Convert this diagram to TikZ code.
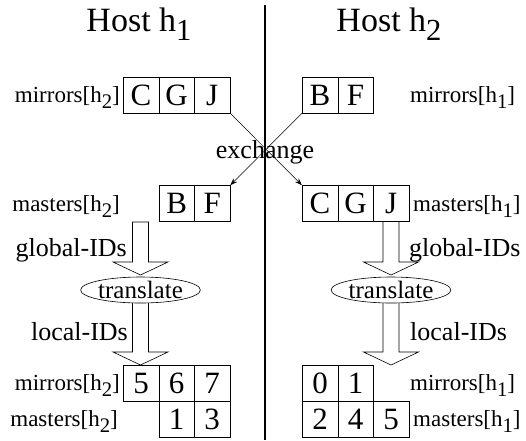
\documentclass[tikz,border=0pt]{standalone}
\usepackage{fontspec}
\setmainfont{Liberation Serif}
\usetikzlibrary{shapes.geometric,arrows.meta}
\newcommand\hsub[1]{\raisebox{-0.28em}{\scalebox{0.9}{#1}}}
\tikzset{
  cell/.style={draw, line width=0.6pt, minimum width=35.6pt, minimum height=36pt, inner sep=0pt, font=\fontsize{31}{33}\selectfont},
  title/.style={font=\fontsize{34}{36}\selectfont, inner sep=0pt},
  side/.style={font=\fontsize{23}{25}\selectfont, inner sep=0pt},
  mid/.style={font=\fontsize{26}{28}\selectfont, inner sep=0pt},
  xch/.style={-{Stealth[length=7pt,width=5pt]}, line width=0.5pt},
  hollow/.style={draw, line width=0.6pt, fill=white},
  oval/.style={ellipse, draw, line width=0.6pt, fill=white, minimum width=107pt, minimum height=26pt, inner sep=0pt, font=\fontsize{25}{27}\selectfont}
}
\newcommand\hollowarrow[3]{% x, top, tip
  \draw[hollow] (#1-8,#2) -- (#1-8,#3-13) -- (#1-27.5,#3-13) -- (#1,#3) -- (#1+27.5,#3-13) -- (#1+8,#3-13) -- (#1+8,#2) -- cycle;}
\begin{document}
\begin{tikzpicture}[x=1pt,y=-1pt]
\useasboundingbox (0,0) rectangle (526,440);
% divider
\draw[line width=2.5pt] (265,5) coordinate (dtop) -- (265,440) coordinate (dbot);
% titles
\node[title, anchor=base] (t1) at (139,31) {Host h\hsub{1}};
\node[title, anchor=base] (t2) at (389,31) {Host h\hsub{2}};
% hollow arrows (drawn first, ovals and boxes on top)
\hollowarrow{140.5}{222}{275}
\hollowarrow{391}{221.5}{275}
\hollowarrow{140.5}{300}{365}
\hollowarrow{391}{300}{365}
% top row
\node[cell] (a1) at (141,95) {C};
\node[cell] (a2) at (176.6,95) {G};
\node[cell] (a3) at (212.2,95) {J};
\node[cell] (b1) at (320,95) {B};
\node[cell] (b2) at (355.6,95) {F};
\node[side, anchor=base east] (lm1) at (120,102) {mirrors[h\hsub{2}]};
\node[side, anchor=base west] (rm1) at (410,102) {mirrors[h\hsub{1}]};
% masters row
\node[cell] (c1) at (176.6,203.5) {B};
\node[cell] (c2) at (212.2,203.5) {F};
\node[cell] (d1) at (320,203.5) {C};
\node[cell] (d2) at (355.6,203.5) {G};
\node[cell] (d3) at (391.2,203.5) {J};
\node[side, anchor=base east] (lms1) at (120,211) {masters[h\hsub{2}]};
\node[side, anchor=base west] (rms1) at (413,211) {masters[h\hsub{1}]};
% exchange
\draw[xch] (a3.south east) -- (d1.north west);
\draw[xch] (b1.south west) -- (c2.north east);
\node[mid, anchor=base] (ex) at (265,158) {exchange};
% translate
\node[oval] (tl) at (140.5,290) {translate};
\node[oval] (tr) at (391,290) {translate};
\node[mid, anchor=base east] (gl) at (127,256) {global-IDs};
\node[mid, anchor=base west] (gr) at (409,256) {global-IDs};
\node[mid, anchor=base east] (ll) at (128,340) {local-IDs};
\node[mid, anchor=base west] (lr) at (410,340) {local-IDs};
% bottom
\node[cell] (e1) at (141,383) {5};
\node[cell] (e2) at (176.6,383) {6};
\node[cell] (e3) at (212.2,383) {7};
\node[cell] (f1) at (176.6,419) {1};
\node[cell] (f2) at (212.2,419) {3};
\node[cell] (g1) at (320,383) {0};
\node[cell] (g2) at (355.6,383) {1};
\node[cell] (h1) at (320,419) {2};
\node[cell] (h2) at (355.6,419) {4};
\node[cell] (h3) at (391.2,419) {5};
\node[side, anchor=base east] (lm2) at (120,390) {mirrors[h\hsub{2}]};
\node[side, anchor=base west] (rm2) at (410,390) {mirrors[h\hsub{1}]};
\node[side, anchor=base east] (lms2) at (118,426) {masters[h\hsub{2}]};
\node[side, anchor=base west] (rms2) at (413,426) {masters[h\hsub{1}]};
\end{tikzpicture}
\end{document}
